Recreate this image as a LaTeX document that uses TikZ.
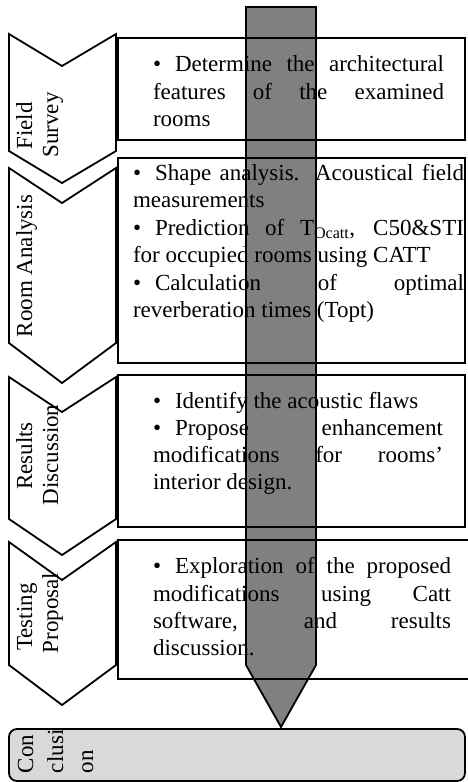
\documentclass[tikz,border=0pt]{standalone}
\usepackage{fontspec}
\setmainfont{Liberation Serif}
\definecolor{arrowgray}{HTML}{808080}
\definecolor{concl}{HTML}{D9D9D9}
\tikzset{
  frame/.style={draw=black, line width=1.8pt},
  chev/.style={draw=black, line width=1.8pt, fill=white, line join=miter},
  txt/.style={inner sep=0pt, outer sep=0pt, anchor=base west, font=\fontsize{23}{27.5}\selectfont},
  lbl/.style={inner sep=0pt, outer sep=0pt, anchor=base, rotate=90, font=\fontsize{23}{27.5}\selectfont},
  lblw/.style={inner sep=0pt, outer sep=0pt, anchor=base west, rotate=90, font=\fontsize{23}{27.5}\selectfont},
}
\newcommand{\jl}[2]{\makebox[#1][s]{#2}}
\newcommand{\bul}{\textbullet\hspace{14pt}}
\begin{document}
\begin{tikzpicture}[x=1pt,y=-1pt]
\useasboundingbox (0,0) rectangle (468,782);
\fill[white] (0,0) rectangle (468,782);

% central arrow
\draw[line width=1.8pt, fill=arrowgray, line join=miter] (246,7) -- (316,7) -- (316,665) -- (281,727) -- (246,665) -- cycle;

% text boxes
\draw[frame] (118,38) rectangle (465,140);
\draw[frame] (118,158) rectangle (465,363);
\draw[frame] (118,375) rectangle (465,527);
\draw[frame] (475,540) -- (118,540) -- (118,679) -- (475,679);

% chevrons
\draw[chev] (9,34) -- (62,66) -- (116,34) -- (116,151) -- (62,183) -- (9,151) -- cycle;
\draw[chev] (9,168) -- (62,203) -- (116,168) -- (116,343) -- (62,383) -- (9,343) -- cycle;
\draw[chev] (9,377) -- (62,412) -- (116,377) -- (116,519) -- (62,555) -- (9,519) -- cycle;
\draw[chev] (9,542) -- (62,580) -- (116,542) -- (116,665) -- (62,705) -- (9,665) -- cycle;

% conclusion box
\draw[line width=1.8pt, fill=concl, rounded corners=8pt] (9,729) rectangle (465,781);

% chevron labels
\node[lbl] (c1a) at (32,126) {Field};
\node[lbl] (c1b) at (58,125) {Survey};
\node[lbl] (c2a) at (32,266) {Room Analysis};
\node[lbl] (c3a) at (32,456) {Results};
\node[lbl] (c3b) at (58,455) {Discussion};
\node[lbl] (c4a) at (32,617) {Testing};
\node[lbl] (c4b) at (58,613) {Proposal};
\node[lblw] (c5a) at (33,773) {Con};
\node[lblw] (c5b) at (63,773) {clusi};
\node[lblw] (c5c) at (93,773) {on};

% box 1 text
\node[txt] (t11) at (153,71) {\jl{291pt}{\bul Determine the architectural}};
\node[txt] (t12) at (153,99) {\jl{291pt}{features of the examined}};
\node[txt] (t13) at (153,126) {rooms};

% box 2 text
\node[txt] (t21) at (133,180) {\jl{331pt}{\bul Shape analysis. Acoustical field}};
\node[txt] (t22) at (133,207.5) {measurements};
\node[txt] (t23) at (133,235) {\jl{331pt}{\bul Prediction of T\textsubscript{Ocatt}, C50\&STI}};
\node[txt] (t24) at (133,262.5) {for occupied rooms using CATT};
\node[txt] (t25) at (133,290) {\jl{331pt}{\bul Calculation of optimal}};
\node[txt] (t26) at (133,317.5) {reverberation times (Topt)};

% box 3 text
\node[txt] (t31) at (153,408) {\bul Identify the acoustic flaws};
\node[txt] (t32) at (153,435) {\jl{290pt}{\bul Propose enhancement}};
\node[txt] (t33) at (153,462) {\jl{290pt}{modifications for rooms’}};
\node[txt] (t34) at (153,489) {interior design.};

% box 4 text
\node[txt] (t41) at (153,573) {\jl{298pt}{\bul Exploration of the proposed}};
\node[txt] (t42) at (153,601) {\jl{298pt}{modifications using Catt}};
\node[txt] (t43) at (153,628) {\jl{298pt}{software, and results}};
\node[txt] (t44) at (153,655) {discussion.};
\end{tikzpicture}
\end{document}
